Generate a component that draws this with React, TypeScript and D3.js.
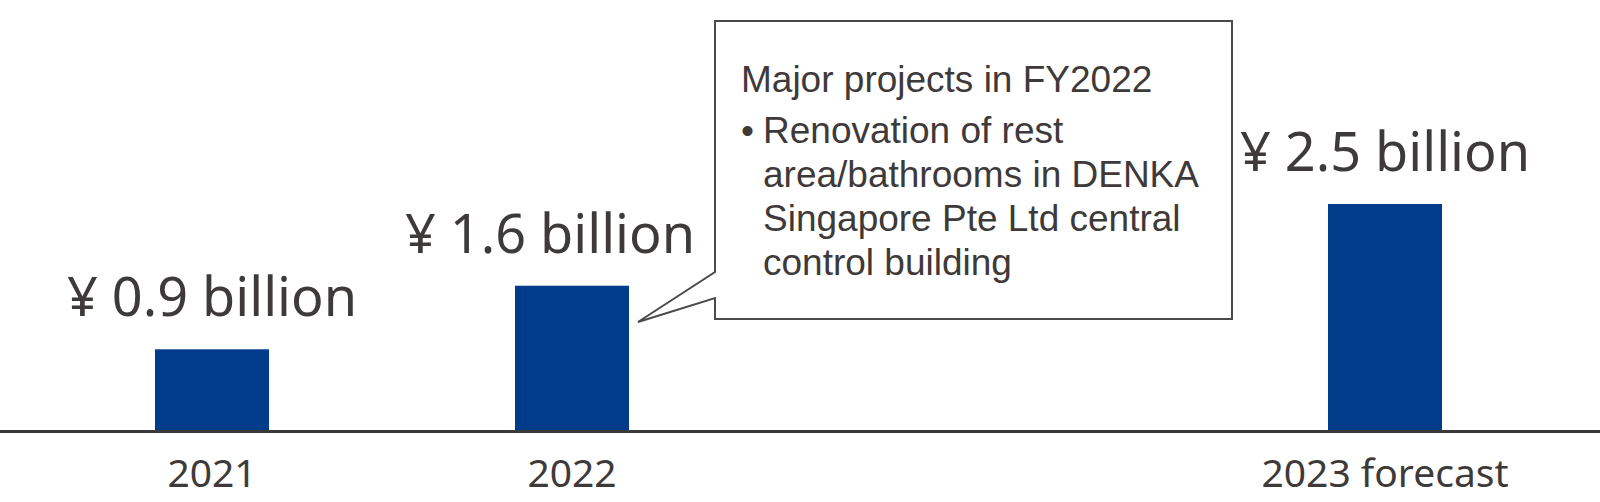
import React, { useRef, useEffect } from 'react';
import * as d3 from 'd3';

// Capital investment, billions of yen
const years = ['2021', '2022', '2023 forecast'];
const values = [0.9, 1.6, 2.5];
const valueLabels = ['¥ 0.9 billion', '¥ 1.6 billion', '¥ 2.5 billion'];

const calloutTitle = 'Major projects in FY2022';
const calloutLines = [
  'Renovation of rest',
  'area/bathrooms in DENKA',
  'Singapore Pte Ltd central',
  'control building',
];

const W = 1600;
const H = 502;
const TEXT = '#3e3a39';
const BAR = '#003c8a';

const App: React.FC = () => {
  const ref = useRef<SVGSVGElement>(null);

  useEffect(() => {
    if (!ref.current) return;
    const svg = d3.select(ref.current);
    svg.selectAll('*').remove();

    const baseline = 431;
    const barWidth = 114;

    const x = d3.scaleOrdinal<string, number>()
      .domain(years)
      .range([212, 572, 1385]);

    const y = d3.scaleLinear()
      .domain([0, 2.5])
      .range([baseline, 204]);

    // Bars
    svg.selectAll('.bar')
      .data(values)
      .enter()
      .append('rect')
      .attr('class', 'bar')
      .attr('x', (_, i) => x(years[i]) - barWidth / 2)
      .attr('y', d => y(d))
      .attr('width', barWidth)
      .attr('height', d => y(0) - y(d))
      .attr('fill', BAR);

    // Baseline
    svg.append('line')
      .attr('x1', 0)
      .attr('x2', W)
      .attr('y1', baseline + 0.5)
      .attr('y2', baseline + 0.5)
      .attr('stroke', '#3a3a3a')
      .attr('stroke-width', 3);

    // Value labels (2022 nudged left, away from the callout)
    svg.selectAll('.value')
      .data(values)
      .enter()
      .append('text')
      .attr('class', 'value')
      .attr('x', (_, i) => x(years[i]) + (i === 1 ? -22 : 0))
      .attr('y', d => y(d) - 33)
      .attr('text-anchor', 'middle')
      .attr('font-family', '"Noto Sans", "Open Sans", sans-serif')
      .attr('font-size', 54)
      .attr('fill', TEXT)
      .text((_, i) => valueLabels[i]);

    // Category labels
    svg.selectAll('.cat')
      .data(years)
      .enter()
      .append('text')
      .attr('class', 'cat')
      .attr('x', d => x(d))
      .attr('y', baseline + 56)
      .attr('text-anchor', 'middle')
      .attr('font-family', '"Noto Sans", "Open Sans", sans-serif')
      .attr('font-size', 39)
      .attr('fill', TEXT)
      .text(d => d);

    // Callout box with pointer to the 2022 bar
    const bx0 = 715, bx1 = 1232, by0 = 21, by1 = 319;
    const tipX = x('2022') + barWidth / 2 + 9;
    const tipY = 322;
    const path = d3.path();
    path.moveTo(bx0, by0);
    path.lineTo(bx1, by0);
    path.lineTo(bx1, by1);
    path.lineTo(bx0, by1);
    path.lineTo(bx0, 298);
    path.lineTo(tipX, tipY);
    path.lineTo(bx0, 272);
    path.closePath();

    svg.append('path')
      .attr('d', path.toString())
      .attr('fill', '#fff')
      .attr('stroke', '#4a4a4a')
      .attr('stroke-width', 2);

    const callout = svg.append('g')
      .attr('font-family', '"Liberation Sans", Arial, sans-serif')
      .attr('font-size', 37)
      .attr('fill', TEXT);

    callout.append('text')
      .attr('x', 741)
      .attr('y', 92)
      .text(calloutTitle);

    callout.append('text')
      .attr('x', 741)
      .attr('y', 143)
      .text('•');

    calloutLines.forEach((line, i) => {
      callout.append('text')
        .attr('x', 763)
        .attr('y', 143 + i * 44)
        .text(line);
    });
  }, []);

  return (
    <svg
      ref={ref}
      width={W}
      height={H}
      style={{ position: 'absolute', left: 0, top: 0, background: '#fff' }}
    />
  );
};

export default App;
